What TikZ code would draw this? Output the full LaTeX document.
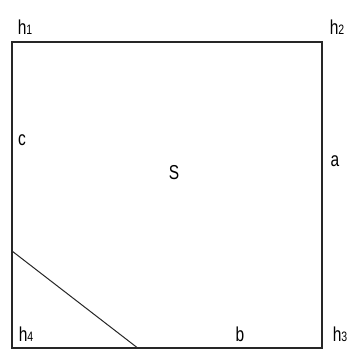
\documentclass[tikz,border=0pt]{standalone}
\usepackage{fontspec}
\setmainfont{Liberation Sans}
\usepackage{graphicx}
\newcommand{\lbltxt}[1]{\scalebox{1}[1.3]{#1}}
\newcommand{\hsub}[1]{h{\fontsize{10.5}{11}\selectfont #1}}
\begin{document}
\begin{tikzpicture}[x=1pt,y=-1pt,
  lbl/.style={inner sep=0pt,font=\fontsize{15.5}{16}\selectfont},
  edge/.style={draw=black!85,line width=1.3pt}]
\useasboundingbox (0,0) rectangle (347,349);
\fill[white] (0,0) rectangle (347,349);
\coordinate (h1) at (12,42);
\coordinate (h2) at (322,42);
\coordinate (h3) at (322,348);
\coordinate (h4) at (12,348);
\coordinate (p) at (12,251);
\coordinate (q) at (139,349);
\draw[edge] (h4) -- (h1) -- (h2) -- (h3) -- cycle;
\draw[draw=black!85,line width=1pt] (p) -- (q);
\node[lbl] (lh1) at (25,27) {\lbltxt{\hsub{1}}};
\node[lbl] (lh2) at (337,27) {\lbltxt{\hsub{2}}};
\node[lbl] (lh3) at (340,334) {\lbltxt{\hsub{3}}};
\node[lbl] (lh4) at (26,334) {\lbltxt{\hsub{4}}};
\node[lbl] (lc) at (22,140) {\lbltxt{c}};
\node[lbl] (la) at (335,161) {\lbltxt{a}};
\node[lbl] (lS) at (174,173) {\lbltxt{S}};
\node[lbl] (lb) at (240,334) {\lbltxt{b}};
\end{tikzpicture}
\end{document}
